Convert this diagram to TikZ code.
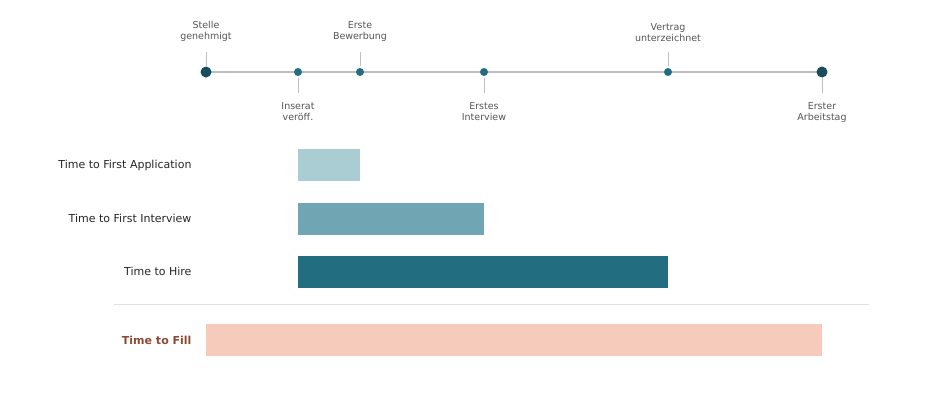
\documentclass[tikz,border=0pt]{standalone}
\usepackage{fontspec}
\setmainfont{DejaVu Sans}
\definecolor{lineGray}{HTML}{BBBEC2}
\definecolor{dotBlue}{HTML}{226D80}
\definecolor{dotDark}{HTML}{174E5E}
\definecolor{barLight}{HTML}{AACCD3}
\definecolor{barMid}{HTML}{70A5B4}
\definecolor{barDark}{HTML}{226D80}
\definecolor{barFill}{HTML}{F6CBBB}
\definecolor{fillText}{HTML}{8B4A32}
\definecolor{labelGray}{HTML}{555555}
\tikzset{
  milestone/.style={font=\fontsize{9.5}{11}\selectfont, text=labelGray, align=center},
  rowlabel/.style={font=\fontsize{11}{13}\selectfont, text=black!85, anchor=east},
  tick/.style={draw=lineGray, line width=0.6pt}
}
\begin{document}
\begin{tikzpicture}[x=1pt,y=-1pt]
  \useasboundingbox (0,0) rectangle (927,410);
  % timeline
  \draw[lineGray, line width=1.5pt] (206,72) -- (822,72);
  % milestones above
  \foreach \x/\txt in {206/{Stelle\\genehmigt}, 360/{Erste\\Bewerbung}, 668/{Vertrag\\unterzeichnet}}{
    \draw[tick] (\x,52) -- (\x,66);
    \node[milestone, anchor=south] at (\x,45) {\txt};
  }
  % milestones below
  \foreach \x/\txt in {298/{Inserat\\veröff.}, 484/{Erstes\\Interview}, 822/{Erster\\Arbeitstag}}{
    \draw[tick] (\x,78) -- (\x,93);
    \node[milestone, anchor=north] at (\x,99) {\txt};
  }
  % dots
  \foreach \x in {298,360,484,668}{
    \fill[dotBlue] (\x,72) circle (4pt);
  }
  \fill[dotDark] (206,72) circle (5.5pt);
  \fill[dotDark] (822,72) circle (5.5pt);
  % bars
  \fill[barLight] (298,149) rectangle (360,181);
  \fill[barMid] (298,203) rectangle (484,235);
  \fill[barDark] (298,256) rectangle (668,288);
  \node[rowlabel] at (195,165) {Time to First Application};
  \node[rowlabel] at (195,218) {Time to First Interview};
  \node[rowlabel] at (195,271) {Time to Hire};
  % separator
  \draw[black!12, line width=0.8pt] (114,304) -- (869,304);
  % time to fill
  \fill[barFill] (206,324) rectangle (822,356);
  \node[rowlabel, text=fillText, font=\fontsize{11}{13}\selectfont\bfseries] at (195,340) {Time to Fill};
\end{tikzpicture}
\end{document}
